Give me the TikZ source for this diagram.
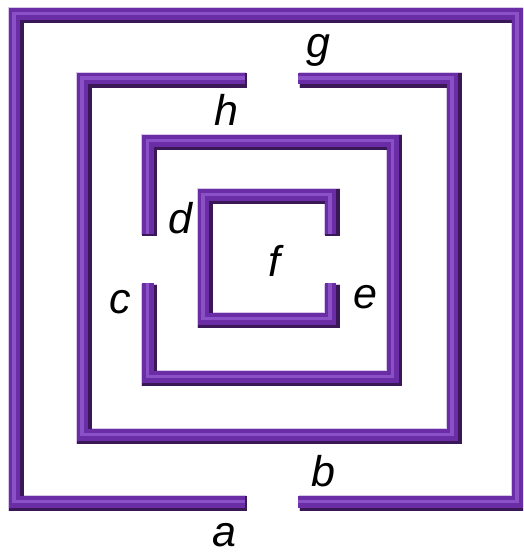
\documentclass[tikz,border=0pt]{standalone}
\usepackage{fontspec}
\setmainfont{Liberation Sans}
\definecolor{wallhalo}{HTML}{D8C8EA}
\definecolor{walldark}{HTML}{3A1858}
\definecolor{wallbody}{HTML}{6A2DA6}
\definecolor{wallshine}{HTML}{8A50C6}
% one maze wall, drawn as a bevelled bar
\newcommand{\mazewall}[1]{%
  \draw[wallrim] #1;
  \draw[wallbase] #1;
  \draw[wallfill] #1;
  \draw[wallgloss] #1;
}

\begin{document}
\begin{tikzpicture}[x=1pt,y=-1pt,
  line join=miter,
  wallrim/.style={draw=wallhalo,line width=16pt},
  wallbase/.style={draw=walldark,line width=15pt,shift={(0.5,0.5)}},
  wallfill/.style={draw=wallbody,line width=11.5pt,shift={(-1,-1)}},
  wallgloss/.style={draw=wallshine,line width=3.5pt,shift={(-1.5,-1.5)}},
  letter/.style={anchor=base,inner sep=0pt,text depth=0pt,
    font=\fontsize{43}{43}\selectfont\itshape}]
  \clip (0,0) rectangle (523,554);

  % Walls, from the outside in
  \mazewall{(246,503)--(15.5,503)--(15.5,15)--(518.5,15)--(518.5,503)--(299,503)}
  \mazewall{(246,79.5)--(83.5,79.5)--(83.5,436)--(453.5,436)--(453.5,79.5)--(299,79.5)}
  \mazewall{(149,235)--(149,142)--(394,142)--(394,378)--(149,378)--(149,284)}
  \mazewall{(331.5,235)--(331.5,196)--(204.5,196)--(204.5,320)--(331.5,320)--(331.5,284)}

  % Region labels
  \node[letter] (a) at (224,546) {a};
  \node[letter] (b) at (323,486) {b};
  \node[letter] (c) at (120,313) {c};
  \node[letter] (d) at (180,233) {d};
  \node[letter] (e) at (365,308) {e};
  \node[letter] (f) at (274,276) {f};
  \node[letter] (g) at (318,57) {g};
  \node[letter] (h) at (226,125) {h};
\end{tikzpicture}
\end{document}
